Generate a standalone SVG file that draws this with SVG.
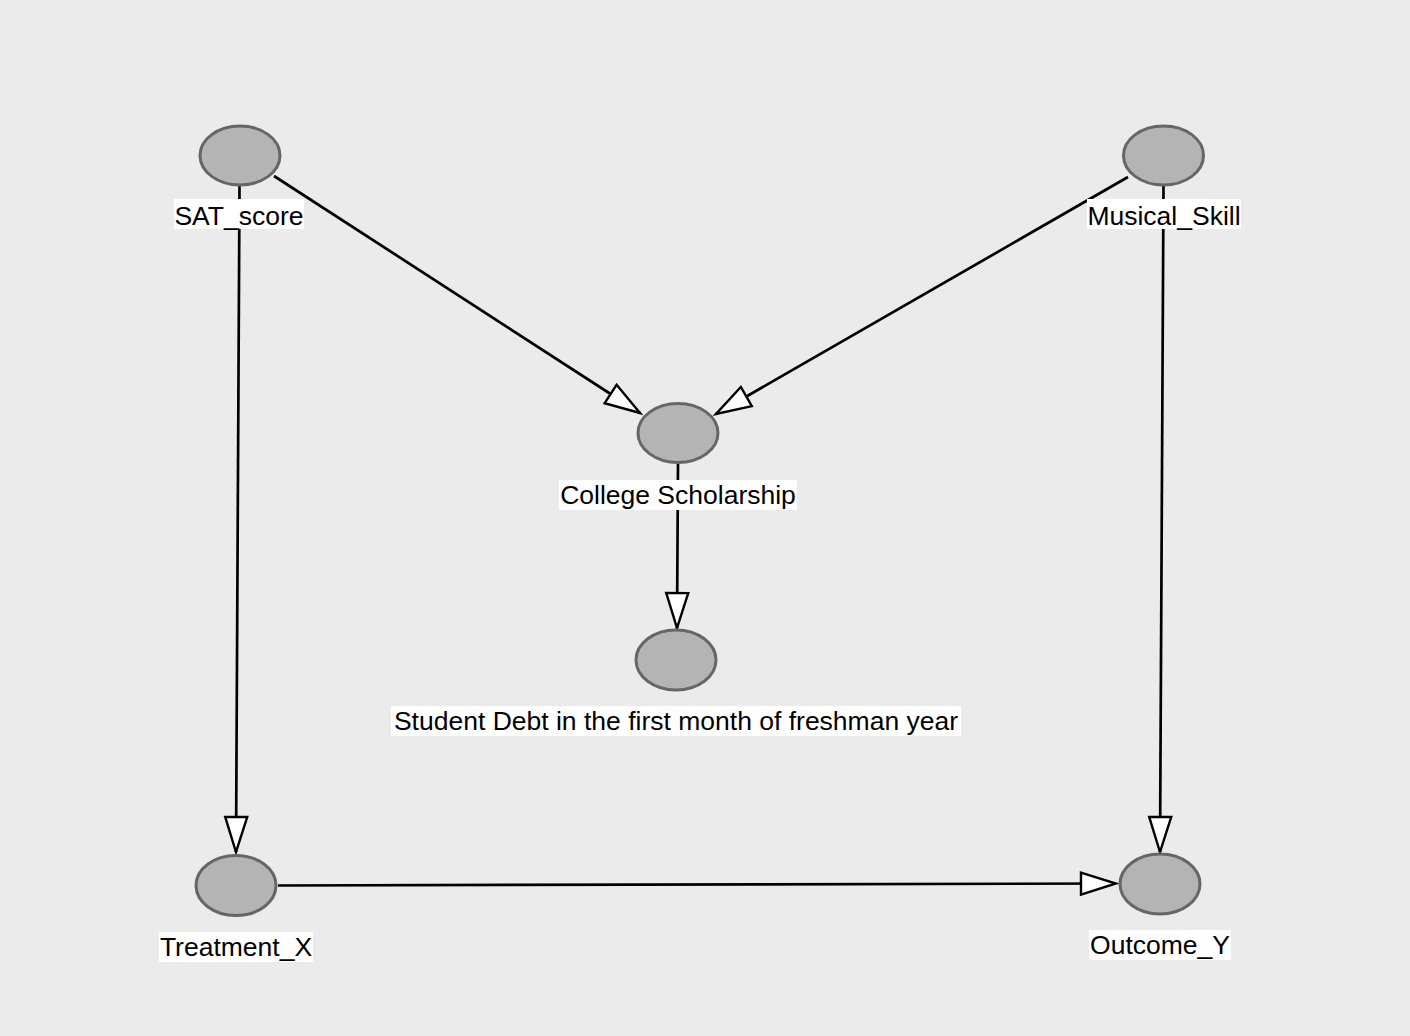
<svg xmlns="http://www.w3.org/2000/svg" width="1410" height="1036" viewBox="0 0 1410 1036">
<style>
.node{fill:#b4b4b4;stroke:#666;stroke-width:3}
.lbg{fill:#fff}
.lbl{font-family:"Liberation Sans",Arial,sans-serif;font-size:26.5px;fill:#000;text-anchor:middle}
.edge{stroke:#000;stroke-width:2.7;fill:none}
</style>
<defs>
<marker id="arr" viewBox="0 0 40 26" markerWidth="40" markerHeight="26" refX="37" refY="13" orient="auto" markerUnits="userSpaceOnUse">
<path d="M2,2 L37,13 L2,24 Z" fill="#fff" stroke="#000" stroke-width="2.4" stroke-linejoin="miter"/>
</marker>
</defs>
<rect width="1410" height="1036" fill="#ebebeb"/>
<g id="connectors">
<line class="edge" x1="239.5" y1="186" x2="236" y2="852" marker-end="url(#arr)"/>
<line class="edge" x1="274" y1="176" x2="640" y2="413" marker-end="url(#arr)"/>
<line class="edge" x1="1128" y1="177" x2="716" y2="414" marker-end="url(#arr)"/>
<line class="edge" x1="1163.5" y1="186" x2="1160" y2="852" marker-end="url(#arr)"/>
<line class="edge" x1="678" y1="464" x2="677" y2="628" marker-end="url(#arr)"/>
<line class="edge" x1="278" y1="885.5" x2="1116" y2="883.5" marker-end="url(#arr)"/>
</g>
<g id="SAT_score">
<ellipse class="node" cx="240" cy="155.5" rx="40" ry="29.5"/>
<rect class="lbg" x="174" y="199" width="130" height="30"/>
<text class="lbl" x="239" y="225">SAT_score</text>
</g>
<g id="Musical_Skill">
<ellipse class="node" cx="1163.5" cy="155.5" rx="40" ry="29.5"/>
<rect class="lbg" x="1087" y="199" width="154" height="30"/>
<text class="lbl" x="1164" y="225">Musical_Skill</text>
</g>
<g id="College_Scholarship">
<ellipse class="node" cx="678" cy="433" rx="40" ry="29.5"/>
<rect class="lbg" x="559" y="480" width="238" height="30"/>
<text class="lbl" x="678" y="504">College Scholarship</text>
</g>
<g id="Student_Debt">
<ellipse class="node" cx="676" cy="660" rx="40" ry="30"/>
<rect class="lbg" x="391" y="706" width="570" height="30"/>
<text class="lbl" x="676" y="730">Student Debt in the first month of freshman year</text>
</g>
<g id="Treatment_X">
<ellipse class="node" cx="236" cy="885.5" rx="40" ry="30"/>
<rect class="lbg" x="159" y="932" width="154" height="30"/>
<text class="lbl" x="236" y="956">Treatment_X</text>
</g>
<g id="Outcome_Y">
<ellipse class="node" cx="1160" cy="884" rx="40" ry="30"/>
<rect class="lbg" x="1089" y="930" width="142" height="30"/>
<text class="lbl" x="1160" y="954">Outcome_Y</text>
</g>
</svg>
